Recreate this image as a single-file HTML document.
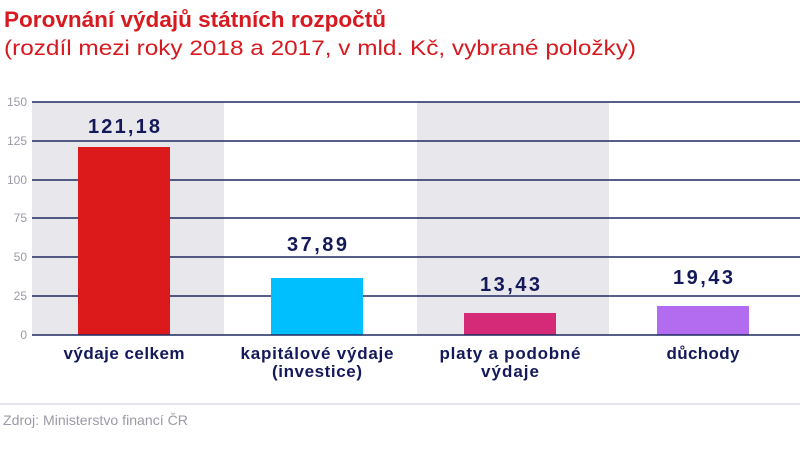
<!DOCTYPE html>
<html><head><meta charset="utf-8"><style>body{margin:0;background:#fff}svg{display:block}</style></head>
<body>
<svg width="800" height="449" xmlns="http://www.w3.org/2000/svg" font-family="Liberation Sans, DejaVu Sans, sans-serif">
<rect width="800" height="449" fill="#fff"/>
<text x="4" y="27" font-size="22" font-weight="bold" fill="#d71920" textLength="382" lengthAdjust="spacingAndGlyphs">Porovnání výdajů státních rozpočtů</text>
<text x="4" y="55" font-size="21" fill="#d71920" textLength="632" lengthAdjust="spacingAndGlyphs">(rozdíl mezi roky 2018 a 2017, v mld. Kč, vybrané položky)</text>
<rect x="32" y="102" width="192" height="233" fill="#e8e7ec"/>
<rect x="417" y="102" width="192" height="233" fill="#e8e7ec"/>
<g stroke="#1f2a60" stroke-width="1.5">
<line x1="32" x2="800" y1="102" y2="102"/><line x1="32" x2="800" y1="141" y2="141"/>
<line x1="32" x2="800" y1="180" y2="180"/><line x1="32" x2="800" y1="218" y2="218"/>
<line x1="32" x2="800" y1="257" y2="257"/><line x1="32" x2="800" y1="296" y2="296"/>
</g>
<g font-size="12" fill="#9a9aa8" text-anchor="end">
<text x="27" y="106">150</text><text x="27" y="145">125</text><text x="27" y="184">100</text>
<text x="27" y="222">75</text><text x="27" y="261">50</text><text x="27" y="300">25</text><text x="27" y="339">0</text>
</g>
<rect x="78" y="147" width="92" height="188" fill="#dc1a1c"/>
<rect x="271" y="278" width="92" height="57" fill="#00bfff"/>
<rect x="464" y="313" width="92" height="22" fill="#d42a78"/>
<rect x="657" y="306" width="92" height="29" fill="#b36cf0"/>
<line x1="32" x2="800" y1="335" y2="335" stroke="#1f2a60" stroke-width="1.5"/>
<g font-size="20" font-weight="bold" fill="#14195a" text-anchor="middle" lengthAdjust="spacingAndGlyphs">
<text x="124" y="133" textLength="72">121,18</text><text x="317" y="251" textLength="60">37,89</text>
<text x="510" y="291" textLength="60">13,43</text><text x="703" y="284" textLength="60">19,43</text>
</g>
<g font-size="17" font-weight="bold" fill="#14195a" text-anchor="middle" lengthAdjust="spacingAndGlyphs">
<text x="124" y="359" textLength="121">výdaje celkem</text>
<text x="317" y="359" textLength="153">kapitálové výdaje</text><text x="317" y="377" textLength="90">(investice)</text>
<text x="510" y="359" textLength="141">platy a podobné</text><text x="510" y="377" textLength="58">výdaje</text>
<text x="703" y="359" textLength="73">důchody</text>
</g>
<line x1="0" x2="800" y1="404" y2="404" stroke="#dcdce2" stroke-width="1.5"/>
<text x="3" y="425" font-size="14" fill="#9a9aa8" textLength="185" lengthAdjust="spacingAndGlyphs">Zdroj: Ministerstvo financí ČR</text>
</svg>
</body></html>
